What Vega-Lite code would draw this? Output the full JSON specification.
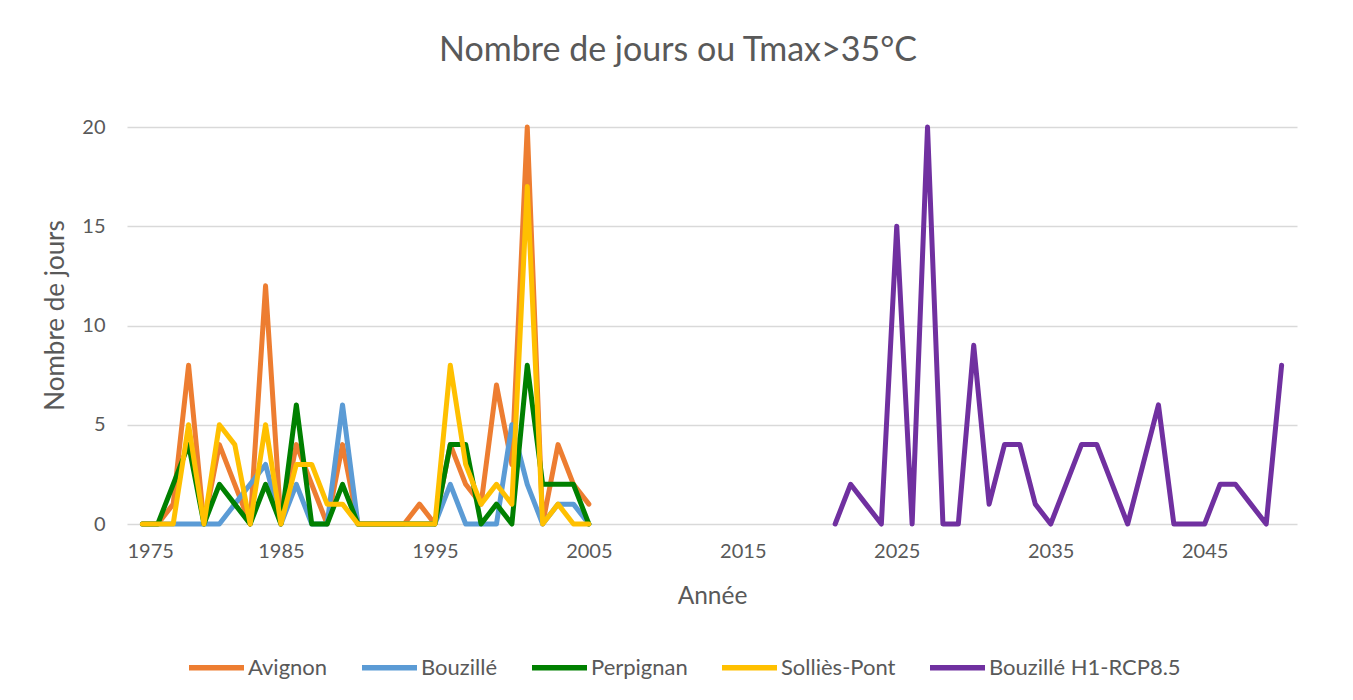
{
  "$schema": "https://vega.github.io/schema/vega-lite/v6.json",
  "autosize": {"type": "none"},
  "width": 1170,
  "height": 397,
  "padding": {"left": 127, "top": 127, "right": 56, "bottom": 176},
  "background": "#FFFFFF",
  "title": {
    "text": "Nombre de jours ou Tmax>35°C",
    "font": "Lato",
    "fontSize": 34,
    "fontWeight": "normal",
    "color": "#595959",
    "anchor": "middle",
    "dx": -34,
    "offset": 49
  },
  "config": {
    "view": {"stroke": null},
    "font": "Lato"
  },
  "data": {
    "values": [
      {"annee": 1976, "station": "Avignon", "jours": 0},
      {"annee": 1977, "station": "Avignon", "jours": 0},
      {"annee": 1978, "station": "Avignon", "jours": 1},
      {"annee": 1979, "station": "Avignon", "jours": 8},
      {"annee": 1980, "station": "Avignon", "jours": 0},
      {"annee": 1981, "station": "Avignon", "jours": 4},
      {"annee": 1982, "station": "Avignon", "jours": 2},
      {"annee": 1983, "station": "Avignon", "jours": 0},
      {"annee": 1984, "station": "Avignon", "jours": 12},
      {"annee": 1985, "station": "Avignon", "jours": 0},
      {"annee": 1986, "station": "Avignon", "jours": 4},
      {"annee": 1987, "station": "Avignon", "jours": 2},
      {"annee": 1988, "station": "Avignon", "jours": 0},
      {"annee": 1989, "station": "Avignon", "jours": 4},
      {"annee": 1990, "station": "Avignon", "jours": 0},
      {"annee": 1991, "station": "Avignon", "jours": 0},
      {"annee": 1992, "station": "Avignon", "jours": 0},
      {"annee": 1993, "station": "Avignon", "jours": 0},
      {"annee": 1994, "station": "Avignon", "jours": 1},
      {"annee": 1995, "station": "Avignon", "jours": 0},
      {"annee": 1996, "station": "Avignon", "jours": 4},
      {"annee": 1997, "station": "Avignon", "jours": 2},
      {"annee": 1998, "station": "Avignon", "jours": 1},
      {"annee": 1999, "station": "Avignon", "jours": 7},
      {"annee": 2000, "station": "Avignon", "jours": 3},
      {"annee": 2001, "station": "Avignon", "jours": 20},
      {"annee": 2002, "station": "Avignon", "jours": 0},
      {"annee": 2003, "station": "Avignon", "jours": 4},
      {"annee": 2004, "station": "Avignon", "jours": 2},
      {"annee": 2005, "station": "Avignon", "jours": 1},
      {"annee": 1976, "station": "Bouzillé", "jours": 0},
      {"annee": 1977, "station": "Bouzillé", "jours": 0},
      {"annee": 1978, "station": "Bouzillé", "jours": 0},
      {"annee": 1979, "station": "Bouzillé", "jours": 0},
      {"annee": 1980, "station": "Bouzillé", "jours": 0},
      {"annee": 1981, "station": "Bouzillé", "jours": 0},
      {"annee": 1982, "station": "Bouzillé", "jours": 1},
      {"annee": 1983, "station": "Bouzillé", "jours": 2},
      {"annee": 1984, "station": "Bouzillé", "jours": 3},
      {"annee": 1985, "station": "Bouzillé", "jours": 0},
      {"annee": 1986, "station": "Bouzillé", "jours": 2},
      {"annee": 1987, "station": "Bouzillé", "jours": 0},
      {"annee": 1988, "station": "Bouzillé", "jours": 0},
      {"annee": 1989, "station": "Bouzillé", "jours": 6},
      {"annee": 1990, "station": "Bouzillé", "jours": 0},
      {"annee": 1991, "station": "Bouzillé", "jours": 0},
      {"annee": 1992, "station": "Bouzillé", "jours": 0},
      {"annee": 1993, "station": "Bouzillé", "jours": 0},
      {"annee": 1994, "station": "Bouzillé", "jours": 0},
      {"annee": 1995, "station": "Bouzillé", "jours": 0},
      {"annee": 1996, "station": "Bouzillé", "jours": 2},
      {"annee": 1997, "station": "Bouzillé", "jours": 0},
      {"annee": 1998, "station": "Bouzillé", "jours": 0},
      {"annee": 1999, "station": "Bouzillé", "jours": 0},
      {"annee": 2000, "station": "Bouzillé", "jours": 5},
      {"annee": 2001, "station": "Bouzillé", "jours": 2},
      {"annee": 2002, "station": "Bouzillé", "jours": 0},
      {"annee": 2003, "station": "Bouzillé", "jours": 1},
      {"annee": 2004, "station": "Bouzillé", "jours": 1},
      {"annee": 2005, "station": "Bouzillé", "jours": 0},
      {"annee": 1976, "station": "Perpignan", "jours": 0},
      {"annee": 1977, "station": "Perpignan", "jours": 0},
      {"annee": 1978, "station": "Perpignan", "jours": 2},
      {"annee": 1979, "station": "Perpignan", "jours": 4},
      {"annee": 1980, "station": "Perpignan", "jours": 0},
      {"annee": 1981, "station": "Perpignan", "jours": 2},
      {"annee": 1982, "station": "Perpignan", "jours": 1},
      {"annee": 1983, "station": "Perpignan", "jours": 0},
      {"annee": 1984, "station": "Perpignan", "jours": 2},
      {"annee": 1985, "station": "Perpignan", "jours": 0},
      {"annee": 1986, "station": "Perpignan", "jours": 6},
      {"annee": 1987, "station": "Perpignan", "jours": 0},
      {"annee": 1988, "station": "Perpignan", "jours": 0},
      {"annee": 1989, "station": "Perpignan", "jours": 2},
      {"annee": 1990, "station": "Perpignan", "jours": 0},
      {"annee": 1991, "station": "Perpignan", "jours": 0},
      {"annee": 1992, "station": "Perpignan", "jours": 0},
      {"annee": 1993, "station": "Perpignan", "jours": 0},
      {"annee": 1994, "station": "Perpignan", "jours": 0},
      {"annee": 1995, "station": "Perpignan", "jours": 0},
      {"annee": 1996, "station": "Perpignan", "jours": 4},
      {"annee": 1997, "station": "Perpignan", "jours": 4},
      {"annee": 1998, "station": "Perpignan", "jours": 0},
      {"annee": 1999, "station": "Perpignan", "jours": 1},
      {"annee": 2000, "station": "Perpignan", "jours": 0},
      {"annee": 2001, "station": "Perpignan", "jours": 8},
      {"annee": 2002, "station": "Perpignan", "jours": 2},
      {"annee": 2003, "station": "Perpignan", "jours": 2},
      {"annee": 2004, "station": "Perpignan", "jours": 2},
      {"annee": 2005, "station": "Perpignan", "jours": 0},
      {"annee": 1976, "station": "Solliès-Pont", "jours": 0},
      {"annee": 1977, "station": "Solliès-Pont", "jours": 0},
      {"annee": 1978, "station": "Solliès-Pont", "jours": 0},
      {"annee": 1979, "station": "Solliès-Pont", "jours": 5},
      {"annee": 1980, "station": "Solliès-Pont", "jours": 0},
      {"annee": 1981, "station": "Solliès-Pont", "jours": 5},
      {"annee": 1982, "station": "Solliès-Pont", "jours": 4},
      {"annee": 1983, "station": "Solliès-Pont", "jours": 0},
      {"annee": 1984, "station": "Solliès-Pont", "jours": 5},
      {"annee": 1985, "station": "Solliès-Pont", "jours": 0},
      {"annee": 1986, "station": "Solliès-Pont", "jours": 3},
      {"annee": 1987, "station": "Solliès-Pont", "jours": 3},
      {"annee": 1988, "station": "Solliès-Pont", "jours": 1},
      {"annee": 1989, "station": "Solliès-Pont", "jours": 1},
      {"annee": 1990, "station": "Solliès-Pont", "jours": 0},
      {"annee": 1991, "station": "Solliès-Pont", "jours": 0},
      {"annee": 1992, "station": "Solliès-Pont", "jours": 0},
      {"annee": 1993, "station": "Solliès-Pont", "jours": 0},
      {"annee": 1994, "station": "Solliès-Pont", "jours": 0},
      {"annee": 1995, "station": "Solliès-Pont", "jours": 0},
      {"annee": 1996, "station": "Solliès-Pont", "jours": 8},
      {"annee": 1997, "station": "Solliès-Pont", "jours": 3},
      {"annee": 1998, "station": "Solliès-Pont", "jours": 1},
      {"annee": 1999, "station": "Solliès-Pont", "jours": 2},
      {"annee": 2000, "station": "Solliès-Pont", "jours": 1},
      {"annee": 2001, "station": "Solliès-Pont", "jours": 17},
      {"annee": 2002, "station": "Solliès-Pont", "jours": 0},
      {"annee": 2003, "station": "Solliès-Pont", "jours": 1},
      {"annee": 2004, "station": "Solliès-Pont", "jours": 0},
      {"annee": 2005, "station": "Solliès-Pont", "jours": 0},
      {"annee": 2021, "station": "Bouzillé H1-RCP8.5", "jours": 0},
      {"annee": 2022, "station": "Bouzillé H1-RCP8.5", "jours": 2},
      {"annee": 2023, "station": "Bouzillé H1-RCP8.5", "jours": 1},
      {"annee": 2024, "station": "Bouzillé H1-RCP8.5", "jours": 0},
      {"annee": 2025, "station": "Bouzillé H1-RCP8.5", "jours": 15},
      {"annee": 2026, "station": "Bouzillé H1-RCP8.5", "jours": 0},
      {"annee": 2027, "station": "Bouzillé H1-RCP8.5", "jours": 20},
      {"annee": 2028, "station": "Bouzillé H1-RCP8.5", "jours": 0},
      {"annee": 2029, "station": "Bouzillé H1-RCP8.5", "jours": 0},
      {"annee": 2030, "station": "Bouzillé H1-RCP8.5", "jours": 9},
      {"annee": 2031, "station": "Bouzillé H1-RCP8.5", "jours": 1},
      {"annee": 2032, "station": "Bouzillé H1-RCP8.5", "jours": 4},
      {"annee": 2033, "station": "Bouzillé H1-RCP8.5", "jours": 4},
      {"annee": 2034, "station": "Bouzillé H1-RCP8.5", "jours": 1},
      {"annee": 2035, "station": "Bouzillé H1-RCP8.5", "jours": 0},
      {"annee": 2036, "station": "Bouzillé H1-RCP8.5", "jours": 2},
      {"annee": 2037, "station": "Bouzillé H1-RCP8.5", "jours": 4},
      {"annee": 2038, "station": "Bouzillé H1-RCP8.5", "jours": 4},
      {"annee": 2039, "station": "Bouzillé H1-RCP8.5", "jours": 2},
      {"annee": 2040, "station": "Bouzillé H1-RCP8.5", "jours": 0},
      {"annee": 2041, "station": "Bouzillé H1-RCP8.5", "jours": 3},
      {"annee": 2042, "station": "Bouzillé H1-RCP8.5", "jours": 6},
      {"annee": 2043, "station": "Bouzillé H1-RCP8.5", "jours": 0},
      {"annee": 2044, "station": "Bouzillé H1-RCP8.5", "jours": 0},
      {"annee": 2045, "station": "Bouzillé H1-RCP8.5", "jours": 0},
      {"annee": 2046, "station": "Bouzillé H1-RCP8.5", "jours": 2},
      {"annee": 2047, "station": "Bouzillé H1-RCP8.5", "jours": 2},
      {"annee": 2048, "station": "Bouzillé H1-RCP8.5", "jours": 1},
      {"annee": 2049, "station": "Bouzillé H1-RCP8.5", "jours": 0},
      {"annee": 2050, "station": "Bouzillé H1-RCP8.5", "jours": 8}
    ]
  },
  "mark": {"type": "line", "strokeWidth": 5, "strokeJoin": "round", "strokeCap": "round"},
  "encoding": {
    "x": {
      "field": "annee",
      "type": "quantitative",
      "scale": {"domain": [1975, 2051], "nice": false, "zero": false},
      "axis": {
        "title": "Année",
        "values": [1975, 1985, 1995, 2005, 2015, 2025, 2035, 2045],
        "format": "d",
        "grid": false,
        "domain": false,
        "ticks": false,
        "labelFont": "Lato",
        "labelFontSize": 20,
        "labelColor": "#595959",
        "labelPadding": 17,
        "titleFont": "Lato",
        "titleFontSize": 24.5,
        "titleFontWeight": "normal",
        "titleColor": "#595959",
        "titlePadding": 23
      }
    },
    "y": {
      "field": "jours",
      "type": "quantitative",
      "scale": {"domain": [0, 20], "nice": false},
      "axis": {
        "title": "Nombre de jours",
        "values": [0, 5, 10, 15, 20],
        "grid": true,
        "gridColor": "#D9D9D9",
        "gridWidth": 1.5,
        "domain": false,
        "ticks": false,
        "labelFont": "Lato",
        "labelFontSize": 20,
        "labelColor": "#595959",
        "labelPadding": 22,
        "titleFont": "Lato",
        "titleFontSize": 26,
        "titleFontWeight": "normal",
        "titleColor": "#595959",
        "titlePadding": 13,
        "titleY": 188
      }
    },
    "color": {
      "field": "station",
      "type": "nominal",
      "sort": ["Avignon", "Bouzillé", "Perpignan", "Solliès-Pont", "Bouzillé H1-RCP8.5"],
      "scale": {
        "domain": ["Avignon", "Bouzillé", "Perpignan", "Solliès-Pont", "Bouzillé H1-RCP8.5"],
        "range": ["#ED7D31", "#5B9BD5", "#008000", "#FFC000", "#7030A0"]
      },
      "legend": {
        "title": null,
        "orient": "none",
        "direction": "horizontal",
        "legendX": 59,
        "legendY": 510,
        "symbolType": "stroke",
        "symbolSize": 3025,
        "symbolStrokeWidth": 5.5,
        "labelFont": "Lato",
        "labelFontSize": 22,
        "labelColor": "#595959",
        "labelOffset": 1,
        "labelLimit": 400,
        "columnPadding": 23
      }
    }
  }
}
